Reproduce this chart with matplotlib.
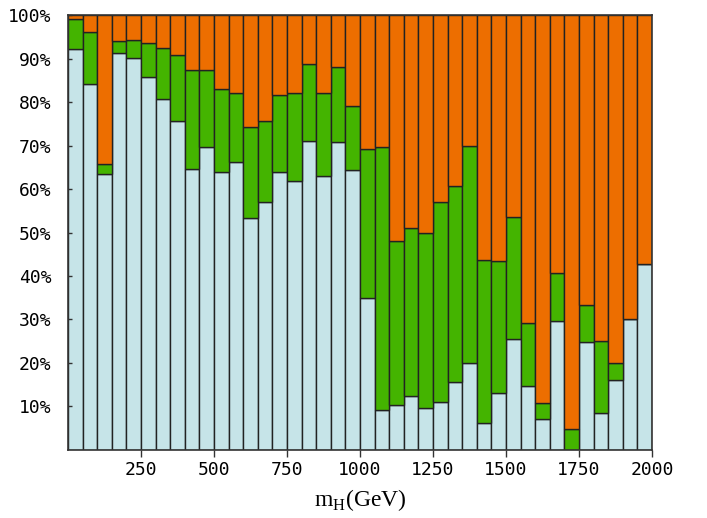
import matplotlib
matplotlib.use("Agg")
import matplotlib.pyplot as plt
import numpy as np

# Bin lower edges (GeV), 50 GeV wide bins
bin_left = list(range(0, 2000, 50))
bin_width = 50

# Cumulative tops (%)
blue_top = [92.2, 84.1, 63.4, 91.3, 90.1, 85.7, 80.7, 75.6, 64.7, 69.7,
            63.9, 66.3, 53.3, 57.1, 64.0, 61.8, 71.0, 63.1, 70.7, 64.3,
            34.9, 9.2, 10.4, 12.4, 9.7, 11.0, 15.7, 20.1, 6.3, 13.0,
            25.6, 14.6, 7.1, 29.7, 0.0, 24.8, 8.4, 16.0, 30.1, 42.8]
green_top = [99.2, 96.1, 65.7, 94.1, 94.3, 93.5, 92.4, 90.8, 87.4, 87.4,
             83.1, 82.0, 74.3, 75.6, 81.5, 82.0, 88.7, 82.1, 88.0, 79.1,
             69.2, 69.7, 48.1, 51.0, 50.0, 56.9, 60.8, 70.0, 43.7, 43.5,
             53.6, 29.2, 10.7, 40.7, 4.8, 33.3, 25.1, 20.1, 30.1, 42.8]

blue = np.array(blue_top)
green = np.array(green_top) - blue
orange = 100 - np.array(green_top)

x_ticks = [250, 500, 750, 1000, 1250, 1500, 1750, 2000]
y_ticks = [10, 20, 30, 40, 50, 60, 70, 80, 90, 100]

c_blue = "#c6e4e8"
c_green = "#44b400"
c_orange = "#ed6e00"
edge = "#222222"

fig = plt.figure(figsize=(7.07, 5.18), dpi=100)
ax = fig.add_axes([0.0962, 0.1313, 0.826, 0.8397])

kw = dict(width=bin_width, align="edge", edgecolor=edge, linewidth=1.0)
ax.bar(bin_left, blue, color=c_blue, **kw)
ax.bar(bin_left, green, bottom=blue, color=c_green, **kw)
ax.bar(bin_left, orange, bottom=np.array(green_top), color=c_orange, **kw)

ax.set_xlim(0, 2000)
ax.set_ylim(0, 100)
ax.set_xticks(x_ticks)
ax.set_xticklabels([str(t) for t in x_ticks], family="DejaVu Sans Mono", fontsize=13)
ax.set_yticks(y_ticks)
ax.set_yticklabels([f"{t}%" for t in y_ticks], family="DejaVu Sans Mono", fontsize=13)
ax.tick_params(axis="x", direction="out", length=5, width=1, color="#333333", pad=3)
ax.tick_params(axis="y", direction="in", length=3, width=1, color="#333333", pad=12)
for s in ax.spines.values():
    s.set_color("#333333")
    s.set_linewidth(1.2)

ax.set_xlabel(r"m$_{\mathregular{H}}$(GeV)", family="Liberation Serif", fontsize=17, labelpad=6)

fig.savefig("out.png", dpi=100)
